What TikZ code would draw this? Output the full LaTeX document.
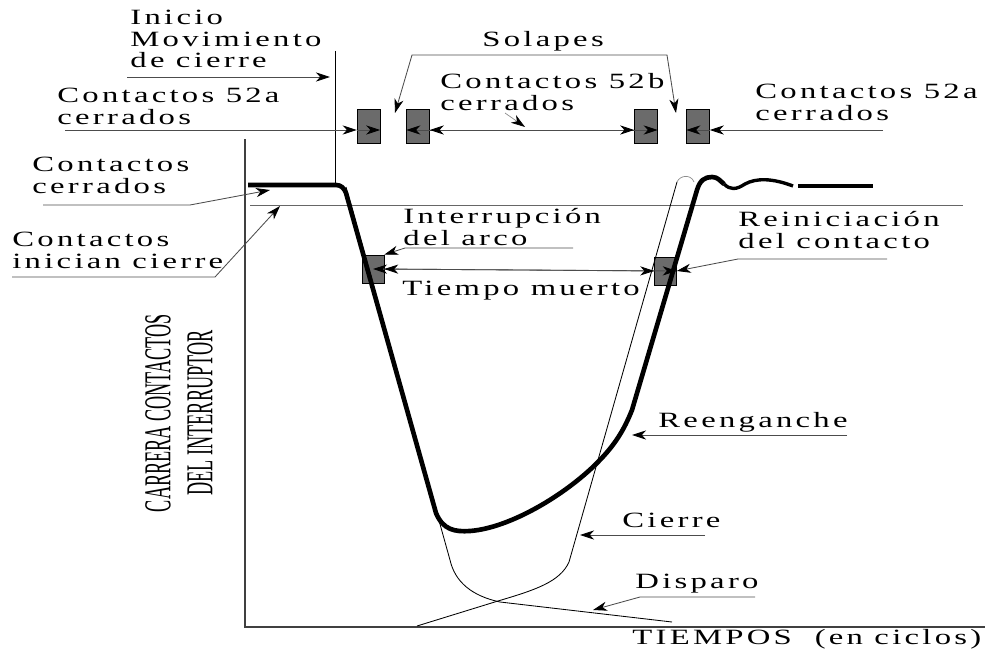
\documentclass[tikz,border=0pt]{standalone}
\usepackage{fontspec}
\setmainfont{Liberation Serif}
\newfontfamily\lblfont[LetterSpace=10]{Liberation Serif}
\usetikzlibrary{arrows.meta,positioning,calc}

\tikzset{
  lbl/.style={font=\lblfont\fontsize{15.5}{15.3}\selectfont,inner sep=0pt,
    align=left,anchor=base west,xscale=1.5},
  contacto/.style={draw,fill=black!58,minimum width=16.3pt,
    minimum height=24.2pt,inner sep=0pt},
  guia/.style={draw=black!70,line width=0.6pt},
  carrera/.style={line width=3.3pt,line join=round},
  curva/.style={line width=0.6pt},
  >={Stealth[length=10pt,width=6.5pt,inset=3pt,color=black]}
}

\begin{document}
\begin{tikzpicture}[x=0.025cm,y=-0.025cm]
  \useasboundingbox (0,0) rectangle (987,650);

  % ejes
  \draw[black!75,line width=1pt] (245,139) -- (245,627) -- (985,627);
  \draw[black!60,line width=0.6pt] (250,205) -- (963,205);
  \draw[line width=0.7pt] (335,51) -- (335,185);

  % contactos auxiliares
  \node[contacto] (a1) at (368.5,126) {};
  \node[contacto] (b1) at (418,126) {};
  \node[contacto] (b2) at (646,126) {};
  \node[contacto] (a2) at (698,126) {};
  \node[contacto,minimum width=15.6pt,minimum height=20pt] (arco)   at (373,269) {};
  \node[contacto,minimum width=15.6pt,minimum height=20pt] (reinic) at (665.5,271) {};

  % curvas de carrera
  \draw[curva] (346,187) -- (450,560) .. controls (455,582) and (472,596) .. (500,602) -- (672,622);
  \draw[curva] (417,626) -- (498,601) .. controls (535,590) and (560,582) .. (569,562) -- (677,182);
  \draw[black!45,line width=0.5pt] (677,182) .. controls (680,175) and (691,174) .. (694,182);
  \draw[carrera] (248,185) -- (336,185) .. controls (341,185) and (344,188) .. (346,193)
    -- (436,513) .. controls (443,530) and (455,532) .. (470,531)
    .. controls (510,528) and (565,495) .. (597,463)
    .. controls (615,445) and (624,430) .. (632,410) -- (697,190)
    .. controls (700,180) and (705,177) .. (712,177)
    .. controls (718,177) and (720,181) .. (724,184);
  \draw[line width=2.4pt] (724,184) .. controls (730,190) and (736,190) .. (745,184)
    .. controls (756,178) and (772,178) .. (793,186);
  \draw[carrera] (798,186) -- (873,186);

  % textos (base = ultima linea)
  \node[lbl] (inicio)  at (130,68)  {Inicio\\Movimiento\\de cierre};
  \node[lbl] (t52a)    at (57,124)  {Contactos 52a\\cerrados};
  \node[lbl] (tcerr)   at (32,193)  {Contactos\\cerrados};
  \node[lbl] (tinic)   at (12,268)  {Contactos\\inician cierre};
  \node[lbl] (solapes) at (482,47)  {Solapes};
  \node[lbl] (t52b)    at (440,110) {Contactos 52b\\cerrados};
  \node[lbl] (t52ar)   at (755,120) {Contactos 52a\\cerrados};
  \node[lbl] (tarco)   at (403,245) {Interrupción\\del arco};
  \node[lbl] (tmuerto) at (402,295) {Tiempo muerto};
  \node[lbl] (treinic) at (738,248) {Reiniciación\\del contacto};
  \node[lbl] (treeng)  at (658,427) {Reenganche};
  \node[lbl] (tcierre) at (622,527) {Cierre};
  \node[lbl] (tdisp)   at (635,588) {Disparo};
  \node[lbl] (ttiempo) at (632,644) {TIEMPOS\ \ (en ciclos)};
  \node[font=\fontsize{27}{30}\selectfont,rotate=90,xscale=0.48,align=center,
    inner sep=0pt] (ycarrera) at (179,413) {CARRERA CONTACTOS\\DEL INTERRUPTOR};

  % puntos de las guias
  \coordinate (ini0) at (127,77);   \coordinate (ini1) at (330,77);
  \coordinate (a1l) at (65,130);    \coordinate (a2r) at (883,130);
  \coordinate (sol1) at (412,55);   \coordinate (sol2) at (667,55);
  \coordinate (gap1) at (395,113);  \coordinate (gap2) at (676,113);
  \coordinate (b52) at (505,113);   \coordinate (b52e) at (525,127);
  \coordinate (cerr0) at (43,205);  \coordinate (cerr1) at (190,205); \coordinate (cerr2) at (270,190);
  \coordinate (inic0) at (12,277);  \coordinate (inic1) at (215,277); \coordinate (inic2) at (280,206);
  \coordinate (arco0) at (573,248); \coordinate (arco1) at (405,248);
  \coordinate (rein0) at (887,259); \coordinate (rein1) at (738,259);
  \coordinate (reen0) at (847,435); \coordinate (reen1) at (632,435);
  \coordinate (cier0) at (705,535); \coordinate (cier1) at (580,535);
  \coordinate (disp0) at (755,597); \coordinate (disp1) at (640,597); \coordinate (disp2) at (593,610);

  % guias y flechas
  \draw[guia,->] (ini0) -- (ini1);
  \draw[guia,->] (a1l) -- (a1l -| a1.west);
  \draw[guia,->] (a1l -| a1.west) -- (a1l -| a1.east);
  \draw[guia,->] (a2r) -- (a2r -| a2.east);
  \draw[guia,->] (a2r -| a2.east) -- (a2r -| a2.west);
  \draw[guia,<->] (b1.west |- a1l) -- (b2.east |- a1l);
  \draw[guia,<->] (b1.east |- a1l) -- (b2.west |- a1l);
  \draw[guia,<->] (gap1) -- (sol1) -- (sol2) -- (gap2);
  \draw[black!45,line width=0.5pt,->] (b52) -- (b52e);
  \draw[guia,->] (cerr0) -- (cerr1) -- (cerr2);
  \draw[guia,->] (inic0) -- (inic1) -- (inic2);
  \draw[guia,->] (arco0) -- (arco1) -- (arco.north east);
  \draw[guia,<->] (arco.center) -- (reinic.east);
  \draw[guia,<->] (arco.east) -- (reinic.west);
  \draw[guia,->] (rein0) -- (rein1) -- (reinic.east);
  \draw[guia,->] (reen0) -- (reen1);
  \draw[guia,->] (cier0) -- (cier1);
  \draw[guia,->] (disp0) -- (disp1) -- (disp2);
\end{tikzpicture}
\end{document}
